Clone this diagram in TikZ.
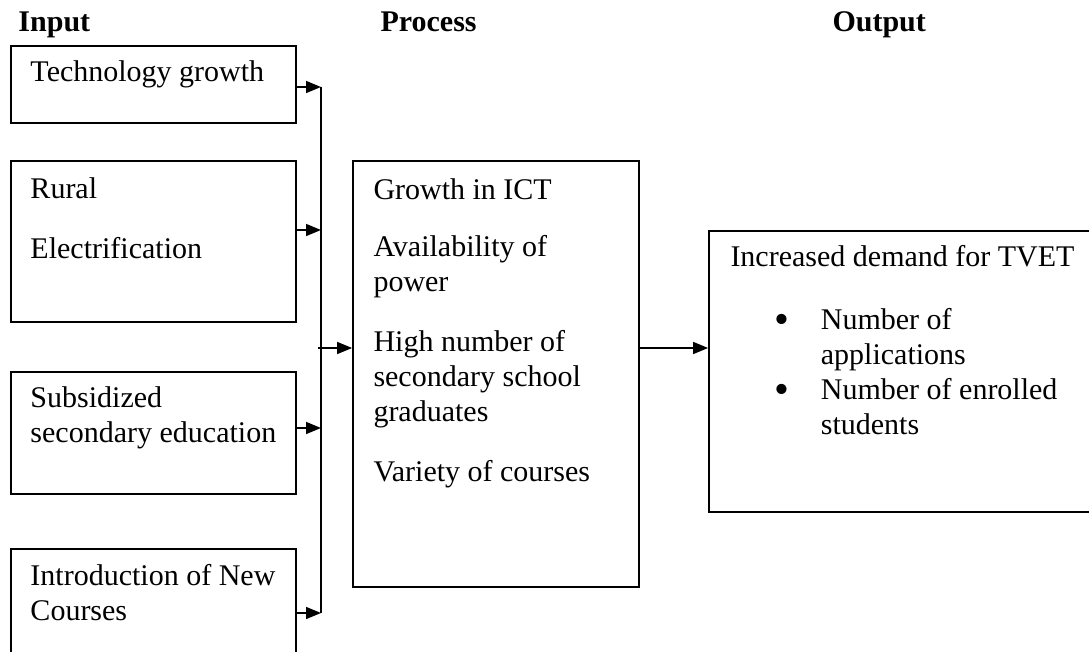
\documentclass[tikz,border=0pt]{standalone}
\usepackage{fontspec}
\setmainfont{Liberation Serif}
\usetikzlibrary{arrows.meta,fit}

\newcommand{\bigdot}{\raisebox{-1.4pt}{\fontsize{17}{14}\selectfont\textbullet}}

\begin{document}
\begin{tikzpicture}[x=0.4pt,y=-0.4pt,
    box/.style={draw,line width=0.7pt,inner sep=0pt},
    txt/.style={font=\fontsize{12}{14}\selectfont,align=left,inner sep=0pt,anchor=base west},
    head/.style={font=\fontsize{12}{14}\selectfont\bfseries,inner sep=0pt,anchor=base west},
    bus/.style={line width=0.6pt},
    arr/.style={-{Triangle[length=6pt,width=4.8pt]},line width=0.6pt}]
  \useasboundingbox (0,0) rectangle (1089,652);
  \clip (0,0) rectangle (1089,652);

  % column heads
  \node[head] (hin) at (18,32) {Input};
  \node[head] (hproc) at (380,32) {Process};
  \node[head] (hout) at (832,32) {Output};

  % input boxes (multi-line text sits on its last baseline)
  \node[box,fit={(11,46)(296,123)}] (tech) {};
  \node[box,fit={(11,161)(296,322)}] (rural) {};
  \node[box,fit={(11,372)(296,494)}] (subsid) {};
  \node[box,fit={(11,549)(296,700)}] (newcrs) {};
  \node[txt] (techtxt) at (30,82) {Technology growth};
  \node[txt] (ruraltxt) at (30,259) {Rural\\[10pt]Electrification};
  \node[txt] (subsidtxt) at (30,443) {Subsidized\\secondary education};
  \node[txt] (newcrstxt) at (30,621) {Introduction of New\\Courses};

  % process box
  \node[box,fit={(353,161)(639,587)}] (proc) {};
  \node[txt] (proctxt) at (373,482) {Growth in ICT\\[9pt]
    Availability of\\power\\[10pt]
    High number of\\secondary school\\graduates\\[10pt]
    Variety of courses};

  % output box
  \node[box,fit={(709,231)(1100,512)}] (outp) {};
  \node[txt] (outtxt) at (730,267) {Increased demand for TVET};
  \node[txt] (outlist) at (774,330) {\begin{tabular}[t]{@{}l@{\hspace{12.6pt}}l@{}}
    \bigdot & Number of\\
            & applications\\
    \bigdot & Number of enrolled\\
            & students
  \end{tabular}};

  % collecting line
  \coordinate (b1) at (321,87);
  \coordinate (b2) at (321,230);
  \coordinate (b3) at (321,428);
  \coordinate (b4) at (321,613);
  \coordinate (bj) at (318,348);
  \draw[bus] (b1) -- (b4);
  \draw[arr] (tech.east |- b1) -- (b1);
  \draw[arr] (rural.east |- b2) -- (b2);
  \draw[arr] (subsid.east |- b3) -- (b3);
  \draw[arr] (newcrs.east |- b4) -- (b4);
  \draw[arr] (bj) -- (bj -| proc.west);
  \draw[arr] (bj -| proc.east) -- (bj -| outp.west);
\end{tikzpicture}
\end{document}
